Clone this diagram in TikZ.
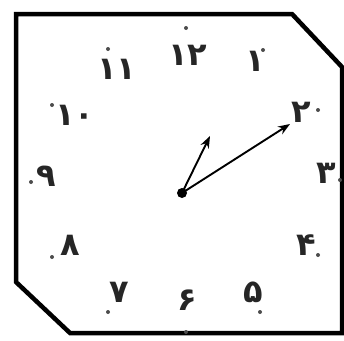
\documentclass[tikz,border=0pt]{standalone}
\usepackage{fontspec}
\newfontfamily\arabicfont[Script=Arabic,Language=Urdu]{DejaVu Sans Bold}
\usetikzlibrary{arrows.meta}
\begin{document}
\begin{tikzpicture}[x=1pt,y=-1pt,
  num/.style={font=\arabicfont\fontsize{32}{32}\selectfont, text=black!85, inner sep=0pt},
  tick/.style={fill=black!70, draw=none},
  hand/.style={line width=1.9pt, -{Stealth[length=12pt,width=9pt]}}]
\useasboundingbox (0,0) rectangle (344,340);
\draw[line width=4.5pt, line join=miter] (16,14) -- (292,14) -- (342,67) -- (342,333) -- (70,333) -- (16,282) -- cycle;
% numbers
\node[num] (n12) at (188,55) {۱۲};
\node[num] (n1) at (255,61) {۱};
\node[num] (n2) at (301,112) {۲};
\node[num] (n3) at (326,173) {۳};
\node[num] (n4) at (306,245) {۴};
\node[num] (n5) at (253,292) {۵};
\node[num] (n6) at (187,300) {۶};
\node[num] (n7) at (119,292) {۷};
\node[num] (n8) at (70,245) {۸};
\node[num] (n9) at (46,176) {۹};
\node[num] (n10) at (75,115) {۱۰};
\node[num] (n11) at (117,69) {۱۱};
% minute ticks
\foreach \p in {(186,28),(263,50),(318,110),(340,180),(318,255),(260,312),(186,332),(108,312),(52,257),(31,182),(52,105),(108,49)}
  \fill[tick] \p circle (2);
% hands
\node[circle, fill=black, inner sep=0pt, minimum size=10pt] (c) at (182,193) {};
\coordinate (h) at (210,136);
\coordinate (m) at (290,124);
\draw[hand] (c.center) -- (h);
\draw[hand] (c.center) -- (m);
\end{tikzpicture}
\end{document}
